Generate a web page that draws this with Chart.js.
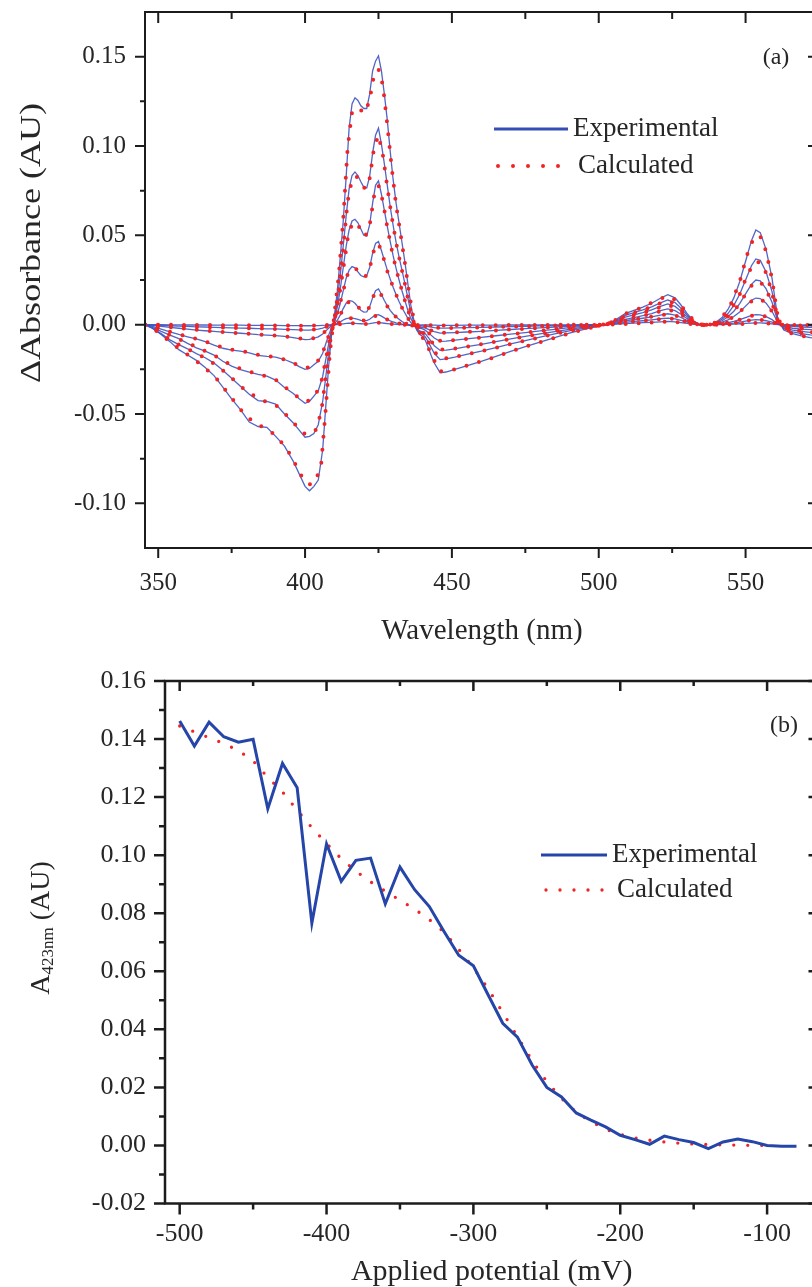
<!DOCTYPE html>
<html><head><meta charset="utf-8">
<script src="https://cdn.jsdelivr.net/npm/chart.js@4.4.1/dist/chart.umd.min.js"></script>
<style>
html,body{margin:0;padding:0;background:#fff;overflow:hidden;width:812px;height:1287px;}
#wrap{position:relative;width:812px;height:1287px;overflow:hidden;background:#fff;}
#c1{position:absolute;left:0;top:0;width:830px;height:650px;}
#c2{position:absolute;left:0;top:650px;width:830px;height:637px;}
</style></head>
<body><div id="wrap"><canvas id="c1" width="830" height="650"></canvas><canvas id="c2" width="830" height="637"></canvas></div>
<script>
// ---------- Panel (a): difference spectra ----------
const wavelengthsExp = [
345.5,348,351,354,357,360,363,366,369,372,
375,378,381,384,387,390,393,396,398,400,
401.5,403,404.5,406,407,408,409,410,411,412,
413,414,415,416,417,418,419,420,421,422,
423,424,425,426,427,428,429,430,431,432,
433,434,435,436,437,438,439,440,441,442,
443,444,446,448,451,455,460,465,470,475,
480,485,490,495,500,503,506,509,512,515,
518,521,523.5,526,528,530,532,534,536,538,
540,542,544,546,548,550,552,553.5,555,557,
559,561,563,566,569,572,575];

const expSpectrum1 = [
0,-0.0020,-0.0055,-0.0095,-0.0140,-0.0170,-0.0200,-0.0240,-0.0285,-0.0350,
-0.0415,-0.0475,-0.0545,-0.0570,-0.0575,-0.0625,-0.0680,-0.0765,-0.0835,-0.0905,
-0.0930,-0.0905,-0.0870,-0.0700,-0.0470,-0.0240,-0.0060,0.0050,0.0190,0.0380,
0.0580,0.0830,0.1100,0.1235,0.1270,0.1255,0.1225,0.1210,0.1210,0.1290,
0.1420,0.1475,0.1505,0.1420,0.1290,0.1145,0.0970,0.0810,0.0680,0.0570,
0.0460,0.0350,0.0230,0.0110,0.0030,-0.0030,-0.0055,-0.0065,-0.0090,-0.0130,
-0.0175,-0.0215,-0.0270,-0.0265,-0.0250,-0.0230,-0.0205,-0.0178,-0.0150,-0.0123,
-0.0098,-0.0072,-0.0048,-0.0026,-0.0008,0.0002,0.0030,0.0062,0.0080,0.0098,
0.0120,0.0148,0.0168,0.0150,0.0110,0.0065,0.0025,0.0003,-0.0006,0.0000,
0.0015,0.0040,0.0085,0.0150,0.0240,0.0355,0.0470,0.0530,0.0515,0.0420,
0.0260,0.0030,-0.0030,-0.0050,-0.0063,-0.0072,-0.0078];

const expSpectrum2 = [
0,-0.0020,-0.0050,-0.0085,-0.0112,-0.0135,-0.0162,-0.0185,-0.0215,-0.0255,
-0.0300,-0.0345,-0.0390,-0.0425,-0.0430,-0.0445,-0.0500,-0.0550,-0.0590,-0.0630,
-0.0625,-0.0610,-0.0560,-0.0430,-0.0300,-0.0160,-0.0045,0.0035,0.0140,0.0280,
0.0440,0.0610,0.0760,0.0835,0.0855,0.0835,0.0800,0.0770,0.0765,0.0830,
0.0960,0.1060,0.1100,0.1010,0.0900,0.0780,0.0660,0.0555,0.0460,0.0380,
0.0305,0.0230,0.0150,0.0070,0.0015,-0.0025,-0.0045,-0.0052,-0.0070,-0.0098,
-0.0130,-0.0160,-0.0196,-0.0192,-0.0182,-0.0166,-0.0148,-0.0128,-0.0108,-0.0089,
-0.0070,-0.0052,-0.0035,-0.0019,-0.0006,0.0002,0.0025,0.0052,0.0068,0.0083,
0.0100,0.0122,0.0138,0.0124,0.0092,0.0055,0.0022,0.0003,-0.0005,0.0000,
0.0012,0.0030,0.0062,0.0108,0.0170,0.0250,0.0330,0.0368,0.0360,0.0295,
0.0185,0.0025,-0.0022,-0.0040,-0.0050,-0.0057,-0.0062];

const expSpectrum3 = [
0,-0.0015,-0.0038,-0.0058,-0.0078,-0.0105,-0.0130,-0.0148,-0.0170,-0.0205,
-0.0232,-0.0252,-0.0265,-0.0278,-0.0288,-0.0310,-0.0352,-0.0385,-0.0415,-0.0440,
-0.0430,-0.0400,-0.0370,-0.0290,-0.0200,-0.0110,-0.0030,0.0025,0.0100,0.0200,
0.0320,0.0440,0.0530,0.0580,0.0590,0.0570,0.0535,0.0500,0.0495,0.0560,
0.0680,0.0780,0.0805,0.0730,0.0640,0.0550,0.0465,0.0385,0.0315,0.0250,
0.0190,0.0135,0.0080,0.0035,0.0005,-0.0020,-0.0035,-0.0040,-0.0052,-0.0072,
-0.0095,-0.0118,-0.0144,-0.0142,-0.0135,-0.0123,-0.0110,-0.0095,-0.0080,-0.0066,
-0.0052,-0.0039,-0.0026,-0.0014,-0.0004,0.0002,0.0020,0.0042,0.0055,0.0068,
0.0083,0.0102,0.0116,0.0102,0.0075,0.0045,0.0018,0.0002,-0.0004,0.0000,
0.0009,0.0022,0.0044,0.0075,0.0118,0.0172,0.0226,0.0250,0.0245,0.0200,
0.0125,0.0020,-0.0016,-0.0030,-0.0038,-0.0043,-0.0047];

const expSpectrum4 = [
0,-0.0010,-0.0025,-0.0040,-0.0055,-0.0068,-0.0080,-0.0095,-0.0115,-0.0132,
-0.0142,-0.0148,-0.0158,-0.0172,-0.0178,-0.0182,-0.0195,-0.0215,-0.0235,-0.0250,
-0.0245,-0.0225,-0.0205,-0.0160,-0.0110,-0.0060,-0.0018,0.0015,0.0060,0.0120,
0.0190,0.0260,0.0305,0.0325,0.0318,0.0295,0.0275,0.0268,0.0275,0.0320,
0.0400,0.0455,0.0465,0.0415,0.0360,0.0305,0.0255,0.0210,0.0168,0.0130,
0.0095,0.0065,0.0035,0.0012,-0.0003,-0.0013,-0.0020,-0.0024,-0.0032,-0.0045,
-0.0060,-0.0075,-0.0093,-0.0092,-0.0087,-0.0080,-0.0071,-0.0062,-0.0053,-0.0044,
-0.0035,-0.0026,-0.0017,-0.0009,-0.0003,0.0001,0.0015,0.0030,0.0040,0.0050,
0.0062,0.0078,0.0088,0.0078,0.0058,0.0035,0.0014,0.0001,-0.0003,0.0000,
0.0006,0.0014,0.0027,0.0046,0.0071,0.0104,0.0136,0.0149,0.0146,0.0120,
0.0075,0.0012,-0.0010,-0.0020,-0.0025,-0.0028,-0.0031];

const expSpectrum5 = [
0,-0.0004,-0.0010,-0.0015,-0.0020,-0.0025,-0.0030,-0.0034,-0.0038,-0.0042,
-0.0045,-0.0048,-0.0052,-0.0056,-0.0058,-0.0061,-0.0066,-0.0072,-0.0078,-0.0084,
-0.0082,-0.0076,-0.0068,-0.0052,-0.0036,-0.0020,-0.0006,0.0006,0.0025,0.0055,
0.0090,0.0120,0.0134,0.0132,0.0120,0.0100,0.0080,0.0070,0.0072,0.0100,
0.0150,0.0190,0.0200,0.0170,0.0135,0.0105,0.0080,0.0060,0.0044,0.0030,
0.0018,0.0008,0.0001,-0.0005,-0.0009,-0.0012,-0.0014,-0.0016,-0.0020,-0.0026,
-0.0033,-0.0039,-0.0047,-0.0046,-0.0044,-0.0041,-0.0037,-0.0032,-0.0027,-0.0022,
-0.0018,-0.0013,-0.0009,-0.0005,-0.0002,0.0001,0.0010,0.0022,0.0029,0.0036,
0.0044,0.0054,0.0061,0.0054,0.0040,0.0024,0.0010,0.0001,-0.0002,0.0000,
0.0003,0.0006,0.0011,0.0018,0.0028,0.0040,0.0052,0.0056,0.0055,0.0045,
0.0028,0.0004,-0.0005,-0.0010,-0.0013,-0.0015,-0.0016];

const expSpectrum6 = [
0,-0.0002,-0.0004,-0.0006,-0.0008,-0.0010,-0.0012,-0.0013,-0.0015,-0.0016,
-0.0018,-0.0019,-0.0020,-0.0022,-0.0023,-0.0024,-0.0026,-0.0028,-0.0029,-0.0030,
-0.0030,-0.0028,-0.0025,-0.0019,-0.0013,-0.0007,-0.0002,0.0002,0.0008,0.0016,
0.0026,0.0034,0.0037,0.0037,0.0034,0.0029,0.0024,0.0022,0.0023,0.0030,
0.0043,0.0053,0.0056,0.0048,0.0038,0.0029,0.0021,0.0015,0.0010,0.0006,
0.0003,0.0000,-0.0002,-0.0004,-0.0005,-0.0006,-0.0007,-0.0008,-0.0009,-0.0011,
-0.0014,-0.0016,-0.0019,-0.0019,-0.0018,-0.0017,-0.0015,-0.0013,-0.0011,-0.0009,
-0.0007,-0.0005,-0.0004,-0.0002,-0.0001,0.0000,0.0006,0.0013,0.0018,0.0022,
0.0027,0.0033,0.0037,0.0033,0.0024,0.0015,0.0006,0.0000,-0.0001,0.0000,
0.0002,0.0003,0.0006,0.0009,0.0014,0.0020,0.0026,0.0028,0.0027,0.0022,
0.0014,0.0002,-0.0002,-0.0004,-0.0005,-0.0006,-0.0006];

const expSpectrum7 = [
0,0,0,-0.0001,-0.0001,-0.0002,-0.0002,-0.0002,-0.0003,-0.0003,
-0.0003,-0.0003,-0.0004,-0.0004,-0.0004,-0.0004,-0.0005,-0.0005,-0.0005,-0.0006,
-0.0006,-0.0005,-0.0005,-0.0004,-0.0003,-0.0001,0,0,0.0001,0.0003,
0.0005,0.0007,0.0008,0.0008,0.0007,0.0006,0.0005,0.0004,0.0004,0.0006,
0.0009,0.0011,0.0012,0.0010,0.0008,0.0006,0.0004,0.0003,0.0002,0.0001,
0,0,-0.0001,-0.0001,-0.0001,-0.0001,-0.0002,-0.0002,-0.0002,-0.0002,
-0.0003,-0.0003,-0.0004,-0.0004,-0.0004,-0.0003,-0.0003,-0.0003,-0.0002,-0.0002,
-0.0002,-0.0001,-0.0001,0,0,0,0.0003,0.0006,0.0009,0.0011,
0.0013,0.0016,0.0018,0.0016,0.0012,0.0007,0.0003,0,0,0,
0,0.0001,0.0002,0.0003,0.0005,0.0007,0.0009,0.0010,0.0010,0.0008,
0.0005,0.0001,-0.0001,-0.0002,-0.0002,-0.0002,-0.0002];

const wavelengthsCalc = [
345.5,350,355,360,365,370,375,380,385,390,
394,397,399.5,401.5,403.5,405.5,407,408.5,410,411.5,
413,414.5,416,417.5,419,420.5,422,423.5,425,426.5,
428,429.5,431,432.5,434,435.5,437,439,441,443,
446,450,456,463,470,478,486,494,500,505,
510,515,520,523.5,527,530,533,536,539,542,
545,548,550.5,553,555,557,559,561,564,568,
572,575];

const calcSpectrum1 = [
0,-0.0040,-0.0110,-0.0168,-0.0228,-0.0305,-0.0410,-0.0515,-0.0568,-0.0618,
-0.0700,-0.0790,-0.0870,-0.0895,-0.0880,-0.0780,-0.0480,-0.0150,0.0060,0.0280,
0.0590,0.0990,0.1190,0.1215,0.1200,0.1185,0.1260,0.1400,0.1430,0.1340,
0.1120,0.0880,0.0670,0.0510,0.0345,0.0170,0.0030,-0.0055,-0.0090,-0.0170,
-0.0262,-0.0255,-0.0225,-0.0190,-0.0150,-0.0108,-0.0068,-0.0030,-0.0008,0.0020,
0.0068,0.0098,0.0138,0.0162,0.0130,0.0065,0.0012,-0.0005,0.0005,0.0040,
0.0115,0.0240,0.0390,0.0495,0.0495,0.0410,0.0255,0.0040,-0.0040,-0.0060,
-0.0070,-0.0076];

const calcSpectrum2 = [
0,-0.0040,-0.0095,-0.0135,-0.0178,-0.0228,-0.0298,-0.0372,-0.0420,-0.0450,
-0.0512,-0.0565,-0.0608,-0.0615,-0.0595,-0.0490,-0.0300,-0.0100,0.0035,0.0205,
0.0430,0.0690,0.0815,0.0830,0.0790,0.0760,0.0820,0.0990,0.1060,0.0950,
0.0770,0.0605,0.0460,0.0340,0.0228,0.0108,0.0015,-0.0045,-0.0070,-0.0128,
-0.0190,-0.0185,-0.0163,-0.0137,-0.0108,-0.0078,-0.0049,-0.0022,-0.0006,0.0016,
0.0057,0.0082,0.0114,0.0134,0.0108,0.0055,0.0010,-0.0004,0.0004,0.0030,
0.0082,0.0170,0.0275,0.0350,0.0350,0.0290,0.0180,0.0030,-0.0030,-0.0045,
-0.0055,-0.0060];

const calcSpectrum3 = [
0,-0.0030,-0.0065,-0.0103,-0.0140,-0.0180,-0.0228,-0.0258,-0.0280,-0.0308,
-0.0360,-0.0398,-0.0428,-0.0425,-0.0395,-0.0325,-0.0200,-0.0070,0.0025,0.0145,
0.0310,0.0480,0.0565,0.0572,0.0530,0.0495,0.0555,0.0720,0.0780,0.0690,
0.0545,0.0420,0.0310,0.0220,0.0135,0.0058,0.0005,-0.0035,-0.0052,-0.0095,
-0.0140,-0.0136,-0.0121,-0.0101,-0.0080,-0.0058,-0.0036,-0.0016,-0.0004,0.0013,
0.0046,0.0067,0.0092,0.0112,0.0090,0.0045,0.0008,-0.0003,0.0003,0.0022,
0.0058,0.0117,0.0186,0.0238,0.0240,0.0197,0.0122,0.0022,-0.0022,-0.0034,
-0.0042,-0.0046];

const calcSpectrum4 = [
0,-0.0017,-0.0045,-0.0066,-0.0088,-0.0118,-0.0140,-0.0152,-0.0172,-0.0182,
-0.0200,-0.0222,-0.0240,-0.0240,-0.0220,-0.0180,-0.0110,-0.0040,0.0015,0.0090,
0.0190,0.0282,0.0318,0.0310,0.0278,0.0268,0.0315,0.0420,0.0455,0.0385,
0.0300,0.0232,0.0168,0.0112,0.0065,0.0024,-0.0003,-0.0020,-0.0032,-0.0060,
-0.0090,-0.0088,-0.0079,-0.0066,-0.0053,-0.0039,-0.0024,-0.0010,-0.0003,0.0010,
0.0033,0.0049,0.0070,0.0085,0.0069,0.0034,0.0006,-0.0002,0.0002,0.0014,
0.0035,0.0070,0.0113,0.0143,0.0145,0.0118,0.0074,0.0012,-0.0014,-0.0022,
-0.0027,-0.0030];

const calcSpectrum5 = [
0,-0.0007,-0.0016,-0.0024,-0.0032,-0.0039,-0.0045,-0.0050,-0.0056,-0.0061,
-0.0068,-0.0074,-0.0080,-0.0080,-0.0073,-0.0058,-0.0036,-0.0013,0.0006,0.0040,
0.0088,0.0125,0.0130,0.0112,0.0082,0.0072,0.0098,0.0168,0.0192,0.0152,
0.0103,0.0070,0.0043,0.0024,0.0009,-0.0002,-0.0009,-0.0014,-0.0020,-0.0033,
-0.0045,-0.0044,-0.0040,-0.0034,-0.0027,-0.0020,-0.0012,-0.0006,-0.0002,0.0007,
0.0025,0.0036,0.0050,0.0058,0.0047,0.0024,0.0005,-0.0001,0.0001,0.0006,
0.0014,0.0028,0.0043,0.0054,0.0054,0.0044,0.0027,0.0004,-0.0007,-0.0012,
-0.0015,-0.0016];

const calcSpectrum6 = [
0,-0.0003,-0.0006,-0.0010,-0.0013,-0.0015,-0.0018,-0.0020,-0.0022,-0.0024,
-0.0027,-0.0028,-0.0029,-0.0029,-0.0027,-0.0021,-0.0013,-0.0005,0.0002,0.0012,
0.0025,0.0035,0.0036,0.0032,0.0025,0.0022,0.0029,0.0047,0.0054,0.0043,
0.0029,0.0018,0.0010,0.0005,0.0000,-0.0003,-0.0005,-0.0007,-0.0009,-0.0013,
-0.0018,-0.0018,-0.0016,-0.0014,-0.0011,-0.0008,-0.0005,-0.0002,-0.0001,0.0004,
0.0015,0.0022,0.0030,0.0035,0.0029,0.0015,0.0003,-0.0001,0.0001,0.0003,
0.0007,0.0014,0.0022,0.0027,0.0027,0.0022,0.0014,0.0002,-0.0003,-0.0005,
-0.0006,-0.0006];

const calcSpectrum7 = [
0,0,-0.0001,-0.0002,-0.0002,-0.0003,-0.0003,-0.0003,-0.0004,-0.0004,
-0.0005,-0.0005,-0.0006,-0.0006,-0.0005,-0.0004,-0.0002,0,0,0.0002,
0.0005,0.0007,0.0008,0.0007,0.0005,0.0004,0.0006,0.0010,0.0011,0.0009,
0.0006,0.0004,0.0002,0.0001,0,-0.0001,-0.0001,-0.0002,-0.0002,-0.0003,
-0.0004,-0.0004,-0.0003,-0.0003,-0.0002,-0.0002,-0.0001,0,0,0.0001,
0.0004,0.0009,0.0014,0.0017,0.0013,0.0006,0.0001,0,0,0,
0.0001,0.0003,0.0006,0.0009,0.0010,0.0008,0.0005,0.0001,-0.0001,-0.0002,
-0.0002,-0.0002];

const wavelengthTicks = [350, 400, 450, 500, 550];
const absorbanceTicks = [-0.10, -0.05, 0.00, 0.05, 0.10, 0.15];

// ---------- Panel (b): A423 vs applied potential ----------
const potentialsExp = [-500,-490,-480,-470,-460,-450,-440,-430,-420,-410,-400,-390,-380,-370,-360,-350,-340,-330,-320,-310,-300,-290,-280,-270,-260,-250,-240,-230,-220,-210,-200,-190,-180,-170,-160,-150,-140,-130,-120,-110,-100,-90,-80];
const a423Exp = [0.1462,0.1376,0.1458,0.1408,0.1389,0.1399,0.1160,0.1316,0.1232,0.0766,0.1039,0.0910,0.0982,0.0990,0.0832,0.0959,0.0881,0.0823,0.0737,0.0655,0.0619,0.0519,0.0421,0.0373,0.0277,0.0200,0.0167,0.0112,0.0087,0.0064,0.0035,0.0020,0.0004,0.0032,0.0020,0.0010,-0.0011,0.0012,0.0022,0.0013,0.0000,-0.0003,-0.0003];
const potentialsCalc = [-500,-490,-480,-470,-460,-450,-440,-430,-420,-410,-400,-390,-380,-370,-360,-350,-340,-330,-320,-310,-300,-290,-280,-270,-260,-250,-240,-230,-220,-210,-200,-190,-180,-170,-160,-150,-140,-130,-120,-110,-100];
const a423Calc = [0.1445,0.1425,0.1405,0.1385,0.1360,0.1325,0.1268,0.1218,0.1155,0.1095,0.1040,0.0988,0.0945,0.0908,0.0876,0.0845,0.0814,0.0778,0.0735,0.0676,0.0612,0.0540,0.0458,0.0375,0.0292,0.0220,0.0162,0.0115,0.0082,0.0056,0.0038,0.0026,0.0018,0.0012,0.0008,0.0005,0.0003,0.0002,0.0001,0.0000,0.0000];

const potentialTicks = [-500, -400, -300, -200, -100];
const a423Ticks = [-0.02, 0.00, 0.02, 0.04, 0.06, 0.08, 0.10, 0.12, 0.14, 0.16];

// ---------- styling / helpers ----------
const FONT = '"Liberation Serif", "Times New Roman", Times, serif';
const TXT = '#262626';
const AXIS = '#1c1c1c';
const EXP_A = 'rgba(62,84,192,0.9)';
const CALC = '#f02424';
const EXP_B = '#2546a8';

const toXY = (xs, ys) => xs.map((x, i) => ({x: x, y: ys[i]}));

function minorValues(scale) {
  const maj = scale.ticks.map(t => t.value);
  const half = (maj[1] - maj[0]) / 2;
  const out = [];
  const eps = half * 1e-3;
  if (maj[0] - half > scale.min + eps) out.push(maj[0] - half);
  for (let i = 0; i < maj.length - 1; i++) out.push((maj[i] + maj[i + 1]) / 2);
  const last = maj[maj.length - 1];
  if (last + half < scale.max - eps) out.push(last + half);
  return out;
}

function framePlugin(cfg) {
  return {
    id: 'frame',
    afterDatasetsDraw(chart) {
      const {ctx, chartArea: a, scales: {x, y}} = chart;
      ctx.save();
      ctx.strokeStyle = AXIS;
      ctx.lineWidth = cfg.width;
      ctx.setLineDash([]);
      ctx.lineCap = 'butt';
      ctx.strokeRect(a.left, a.top, a.right - a.left, a.bottom - a.top);
      ctx.beginPath();
      const doX = (v, L, Li) => {
        const px = x.getPixelForValue(v);
        ctx.moveTo(px, a.bottom); ctx.lineTo(px, a.bottom + L);
        ctx.moveTo(px, a.top); ctx.lineTo(px, a.top + Li);
      };
      const doY = (v, L, Li) => {
        const py = y.getPixelForValue(v);
        ctx.moveTo(a.left, py); ctx.lineTo(a.left - L, py);
        ctx.moveTo(a.right, py); ctx.lineTo(a.right - Li, py);
      };
      x.ticks.forEach(t => doX(t.value, cfg.major, cfg.majorIn));
      minorValues(x).forEach(v => doX(v, cfg.minor, cfg.minorIn));
      y.ticks.forEach(t => doY(t.value, cfg.major, cfg.majorIn));
      minorValues(y).forEach(v => doY(v, cfg.minor, cfg.minorIn));
      ctx.stroke();
      ctx.restore();
    }
  };
}

function textPlugin(items) {
  return {
    id: 'texts',
    afterDraw(chart) {
      const ctx = chart.ctx;
      items.forEach(it => {
        ctx.save();
        ctx.translate(it.x, it.y);
        if (it.rotate) ctx.rotate(it.rotate);
        if (it.stretch) ctx.scale(it.stretch, 1);
        ctx.fillStyle = TXT;
        ctx.textBaseline = 'middle';
        ctx.textAlign = 'left';
        const parts = it.parts;
        const widths = parts.map(p => { ctx.font = p.size + 'px ' + FONT; return ctx.measureText(p.t).width; });
        const total = widths.reduce((s, w) => s + w, 0);
        let cx = -total / 2;
        parts.forEach((p, i) => {
          ctx.font = p.size + 'px ' + FONT;
          ctx.fillText(p.t, cx, p.dy || 0);
          cx += widths[i];
        });
        ctx.restore();
      });
    }
  };
}

function legendPlugin(items, fontSize) {
  return {
    id: 'inlegend',
    afterDraw(chart) {
      const ctx = chart.ctx;
      ctx.save();
      items.forEach(it => {
        ctx.beginPath();
        ctx.strokeStyle = it.color;
        ctx.lineWidth = it.width;
        ctx.setLineDash(it.dash || []);
        ctx.lineCap = it.cap || 'butt';
        ctx.moveTo(it.x0, it.y);
        ctx.lineTo(it.x1, it.y);
        ctx.stroke();
        ctx.setLineDash([]);
        ctx.fillStyle = TXT;
        ctx.font = fontSize + 'px ' + FONT;
        ctx.textBaseline = 'middle';
        ctx.textAlign = 'left';
        ctx.fillText(it.text, it.tx, it.y);
      });
      ctx.restore();
    }
  };
}

// ---------- Chart (a) ----------
const expSets = [expSpectrum1, expSpectrum2, expSpectrum3, expSpectrum4, expSpectrum5, expSpectrum6, expSpectrum7];
const calcSets = [calcSpectrum1, calcSpectrum2, calcSpectrum3, calcSpectrum4, calcSpectrum5, calcSpectrum6, calcSpectrum7];

const dsA = [];
calcSets.forEach((s, i) => dsA.push({
  label: 'Calculated ' + (i + 1), data: toXY(wavelengthsCalc, s),
  borderColor: CALC, borderWidth: 4, borderDash: [0, 13], borderCapStyle: 'round',
  pointRadius: 0, fill: false, order: 0, tension: 0
}));
expSets.forEach((s, i) => dsA.push({
  label: 'Experimental ' + (i + 1), data: toXY(wavelengthsExp, s),
  borderColor: EXP_A, borderWidth: 1.3, pointRadius: 0, fill: false, order: 1, tension: 0
}));

new Chart(document.getElementById('c1'), {
  type: 'line',
  data: {datasets: dsA},
  options: {
    responsive: false, devicePixelRatio: 1, animation: false,
    layout: {padding: {top: 12, right: 11, left: 0, bottom: 0}},
    plugins: {legend: {display: false}, tooltip: {enabled: false}},
    scales: {
      x: {
        type: 'linear', min: 345.5, max: 575,
        grid: {display: false, drawTicks: false}, border: {display: false},
        afterBuildTicks: s => { s.ticks = wavelengthTicks.map(v => ({value: v})); },
        afterFit: s => { s.height = 102; s.paddingLeft = 0; s.paddingRight = 0; },
        ticks: {padding: 20, color: TXT, maxRotation: 0, autoSkip: false, font: {family: FONT, size: 25}, callback: v => String(v)},
        title: {display: true, text: 'Wavelength (nm)', color: TXT, font: {family: FONT, size: 29, lineHeight: 1}, padding: {top: 0, bottom: 4}}
      },
      y: {
        type: 'linear', min: -0.125, max: 0.175,
        grid: {display: false, drawTicks: false}, border: {display: false},
        afterBuildTicks: s => { s.ticks = absorbanceTicks.map(v => ({value: v})); },
        afterFit: s => { s.width = 145; s.paddingTop = 0; s.paddingBottom = 0; },
        ticks: {padding: 19, color: TXT, autoSkip: false, font: {family: FONT, size: 25}, callback: v => v.toFixed(2)}
      }
    }
  },
  plugins: [
    framePlugin({width: 2, major: 10, minor: 5, majorIn: 11, minorIn: 7}),
    legendPlugin([
      {text: 'Experimental', x0: 494, x1: 568, y: 129, tx: 573, color: 'rgb(52,78,182)', width: 3},
      {text: 'Calculated', x0: 498, x1: 562, y: 166, tx: 578, color: CALC, width: 4, dash: [0, 15], cap: 'round'}
    ], 27),
    textPlugin([
      {x: 776, y: 58, parts: [{t: '(a)', size: 24}]},
      {x: 32, y: 243, rotate: -Math.PI / 2, stretch: 1.2, parts: [{t: '\u0394Absorbance (AU)', size: 30}]}
    ])
  ]
});

// ---------- Chart (b) ----------
new Chart(document.getElementById('c2'), {
  type: 'line',
  data: {datasets: [
    {label: 'Experimental', data: toXY(potentialsExp, a423Exp), borderColor: EXP_B, borderWidth: 3,
     pointRadius: 0, fill: false, order: 0, tension: 0, borderJoinStyle: 'miter'},
    {label: 'Calculated', data: toXY(potentialsCalc, a423Calc), borderColor: CALC, borderWidth: 3.3,
     borderDash: [0, 14], borderCapStyle: 'round', pointRadius: 0, fill: false, order: 1, tension: 0}
  ]},
  options: {
    responsive: false, devicePixelRatio: 1, animation: false,
    layout: {padding: {top: 31, right: 11.5, left: 0, bottom: 0}},
    plugins: {legend: {display: false}, tooltip: {enabled: false}},
    scales: {
      x: {
        type: 'linear', min: -510, max: -65,
        grid: {display: false, drawTicks: false}, border: {display: false},
        afterBuildTicks: s => { s.ticks = potentialTicks.map(v => ({value: v})); },
        afterFit: s => { s.height = 83.5; s.paddingLeft = 0; s.paddingRight = 0; },
        ticks: {padding: 15, color: TXT, maxRotation: 0, autoSkip: false, font: {family: FONT, size: 26}, callback: v => String(v)},
        title: {display: true, text: 'Applied potential (mV)', color: TXT, font: {family: FONT, size: 30, lineHeight: 1}, padding: {top: 0, bottom: 0}}
      },
      y: {
        type: 'linear', min: -0.02, max: 0.16,
        grid: {display: false, drawTicks: false}, border: {display: false},
        afterBuildTicks: s => { s.ticks = a423Ticks.map(v => ({value: v})); },
        afterFit: s => { s.width = 165; s.paddingTop = 0; s.paddingBottom = 0; },
        ticks: {padding: 19, color: TXT, autoSkip: false, font: {family: FONT, size: 26}, callback: v => v.toFixed(2)}
      }
    }
  },
  plugins: [
    framePlugin({width: 2.5, major: 11, minor: 6, majorIn: 10, minorIn: 5}),
    legendPlugin([
      {text: 'Experimental', x0: 541, x1: 607, y: 205, tx: 612, color: EXP_B, width: 3},
      {text: 'Calculated', x0: 546, x1: 606, y: 240, tx: 617, color: CALC, width: 3.3, dash: [0, 14], cap: 'round'}
    ], 27),
    textPlugin([
      {x: 784, y: 76, parts: [{t: '(b)', size: 24}]},
      {x: 42, y: 278, rotate: -Math.PI / 2, parts: [{t: 'A', size: 28}, {t: '423nm', size: 17, dy: 7}, {t: ' (AU)', size: 28}]}
    ])
  ]
});
</script>
</body></html>
